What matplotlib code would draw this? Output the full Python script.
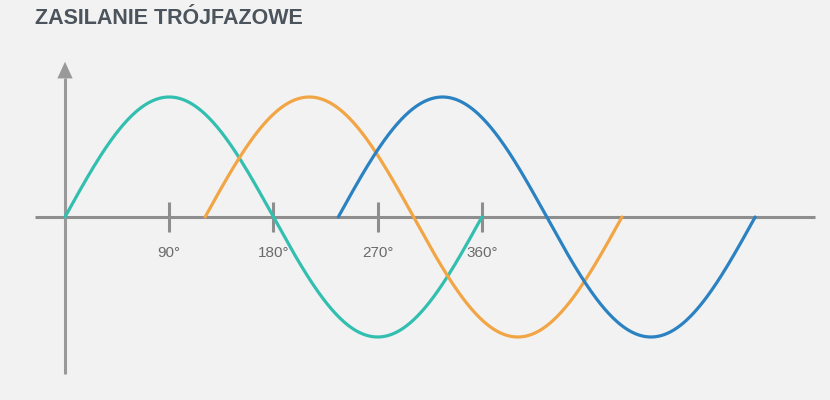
import numpy as np
import matplotlib
matplotlib.use("Agg")
import matplotlib.pyplot as plt

# phase data (degrees) for the three phases
phase_names = ["L1", "L2", "L3"]
phase_starts = [0, 121, 236]
phase_colors = ["#33bfb0", "#f2a545", "#2b82c2"]
amplitude = 1.0
period = 360

tick_degrees = [90, 180, 270, 360]
tick_labels = ["90°", "180°", "270°", "360°"]

title = "ZASILANIE TRÓJFAZOWE"


def main():
    plt.close("all")
    bg = "#f2f2f2"
    axis_color = "#8e8e8e"

    fig = plt.figure(figsize=(8.3, 4.0), dpi=100, facecolor=bg)
    ax = fig.add_axes([0, 0, 1, 1])
    ax.set_facecolor(bg)

    # pixel layout: origin at (65, 217), 1.158 px per degree, 120 px per unit
    px_deg = 1.158
    px_amp = 120
    ax.set_xlim(-65 / px_deg, (830 - 65) / px_deg)
    ax.set_ylim(-(400 - 217) / px_amp, 217 / px_amp)
    ax.axis("off")

    # axes lines
    ax.plot([-30 / px_deg, 750 / px_deg], [0, 0], color=axis_color, lw=2.2,
            solid_capstyle="butt", zorder=1)
    ax.plot([0, 0], [-157 / px_amp, 139 / px_amp], color="#999999", lw=2.2,
            solid_capstyle="butt", zorder=1)
    ax.annotate("", xy=(0, 158 / px_amp), xytext=(0, 136 / px_amp),
                arrowprops=dict(arrowstyle="-|>,head_length=1.2,head_width=0.55",
                                color="#999999", lw=0))

    # tick marks and labels
    for deg, lab in zip(tick_degrees, tick_labels):
        ax.plot([deg, deg], [-15 / px_amp, 15 / px_amp], color=axis_color,
                lw=2.2, solid_capstyle="butt", zorder=1)
        ax.text(deg, -36 / px_amp, lab, ha="center", va="center",
                fontsize=11, color="#6b6b6b", family="Liberation Sans")

    # sine waves
    for name, start, col in zip(phase_names, phase_starts, phase_colors):
        x = np.linspace(start, start + period, 400)
        y = amplitude * np.sin(np.radians(x - start))
        ax.plot(x, y, color=col, lw=2.3, solid_capstyle="round", zorder=3,
                label=name)

    fig.text(35 / 830, 1 - 18 / 400, title, ha="left", va="center",
             fontsize=15.5, fontweight="bold", color="#4b535c",
             family="Liberation Sans")

    fig.savefig("out.png", dpi=100, facecolor=bg)


if __name__ == "__main__":
    main()
